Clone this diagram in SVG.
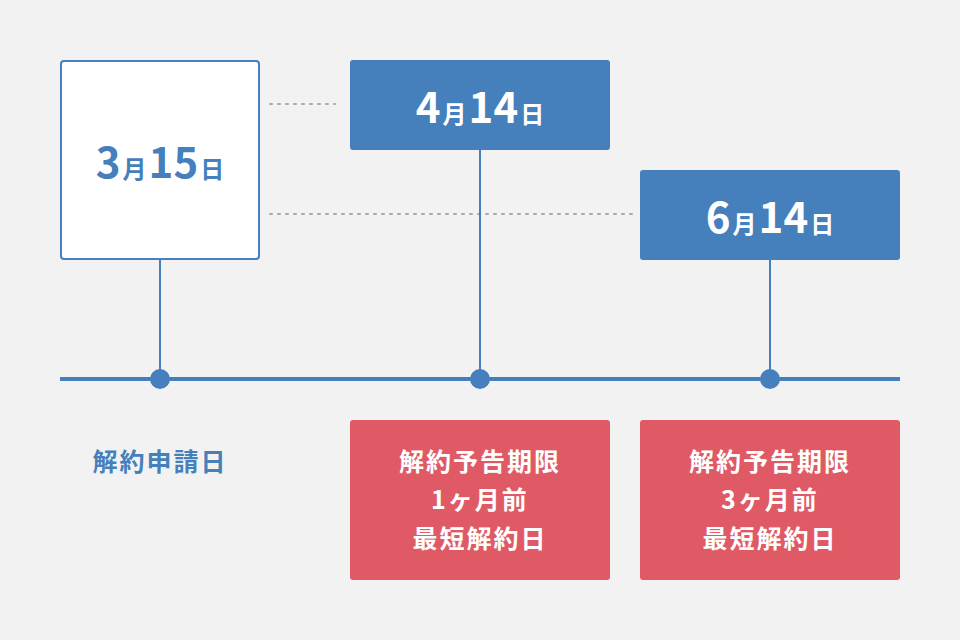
<svg xmlns="http://www.w3.org/2000/svg" width="960" height="640" viewBox="0 0 960 640">
<style>
.t{font-family:"Noto Sans CJK JP","Noto Sans",sans-serif;font-weight:bold;text-anchor:middle}
.big{font-size:42px}.sm{font-size:24px}
.w{fill:#fff}.b{fill:#4580bc}
.lbl{font-size:25px;letter-spacing:2px}
</style>
<rect width="960" height="640" fill="#f2f2f2"/>
<g id="connectors" stroke="#4580bc" stroke-width="2" fill="none">
<line x1="270" y1="104" x2="335" y2="104" stroke="#aaa" stroke-dasharray="2 6" stroke-linecap="round"/>
<line x1="270" y1="214" x2="635" y2="214" stroke="#aaa" stroke-dasharray="2 6" stroke-linecap="round"/>
<line x1="160" y1="260" x2="160" y2="378"/>
<line x1="480" y1="150" x2="480" y2="378"/>
<line x1="770" y1="260" x2="770" y2="378"/>
<line x1="60" y1="379" x2="900" y2="379" stroke-width="4"/>
<g fill="#4580bc" stroke="none"><circle cx="160" cy="379" r="10"/><circle cx="480" cy="379" r="10"/><circle cx="770" cy="379" r="10"/></g>
</g>
<g id="n1"><rect x="61" y="61" width="198" height="198" rx="3" fill="#fff" stroke="#4580bc" stroke-width="2"/>
<text x="160" y="178" class="t b"><tspan class="big">3</tspan><tspan class="sm" dx="2">月</tspan><tspan class="big" dx="2">15</tspan><tspan class="sm" dx="2">日</tspan></text></g>
<g id="n2"><rect x="350" y="60" width="260" height="90" rx="3" fill="#4580bc"/>
<text x="480" y="123" class="t w"><tspan class="big">4</tspan><tspan class="sm" dx="2">月</tspan><tspan class="big" dx="2">14</tspan><tspan class="sm" dx="2">日</tspan></text></g>
<g id="n3"><rect x="640" y="170" width="260" height="90" rx="3" fill="#4580bc"/>
<text x="770" y="233" class="t w"><tspan class="big">6</tspan><tspan class="sm" dx="2">月</tspan><tspan class="big" dx="2">14</tspan><tspan class="sm" dx="2">日</tspan></text></g>
<g id="n4"><text x="160" y="471" class="t b lbl">解約申請日</text></g>
<g id="n5"><rect x="350" y="420" width="260" height="160" rx="3" fill="#e05a65"/>
<text class="t w lbl"><tspan x="480" y="471">解約予告期限</tspan><tspan x="480" y="509">1ヶ月前</tspan><tspan x="480" y="548">最短解約日</tspan></text></g>
<g id="n6"><rect x="640" y="420" width="260" height="160" rx="3" fill="#e05a65"/>
<text class="t w lbl"><tspan x="770" y="471">解約予告期限</tspan><tspan x="770" y="509">3ヶ月前</tspan><tspan x="770" y="548">最短解約日</tspan></text></g>
</svg>
